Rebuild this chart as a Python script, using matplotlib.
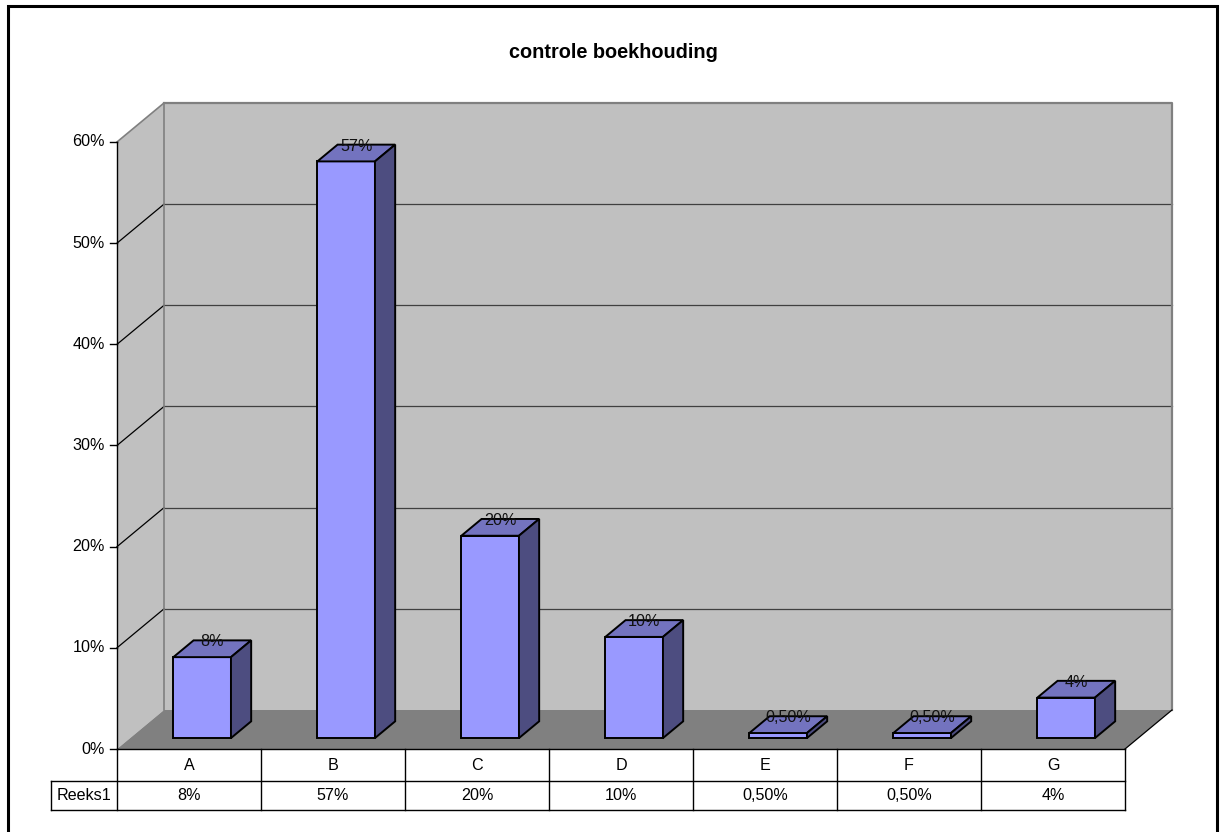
import matplotlib
matplotlib.use("Agg")
import matplotlib.pyplot as plt
from matplotlib.patches import Polygon, Rectangle

# ---- data ----
categories = ["A", "B", "C", "D", "E", "F", "G"]
values = [0.08, 0.57, 0.20, 0.10, 0.005, 0.005, 0.04]
value_labels = ["8%", "57%", "20%", "10%", "0,50%", "0,50%", "4%"]
series_name = "Reeks1"
yticks = [0.0, 0.1, 0.2, 0.3, 0.4, 0.5, 0.6]
ytick_labels = ["0%", "10%", "20%", "30%", "40%", "50%", "60%"]
title = "controle boekhouding"

# ---- layout / style ----
W, H, DPI = 1224, 832, 100
X0_PX, Y0_PX = 117, 749          # pixel of (x=0, y=0)
PX_PER_CAT = 144.0
PX_PER_UNIT = 1011.7
DEPTH = (47 / PX_PER_CAT, 39 / PX_PER_UNIT)
F0, F1 = 0.28, 0.71              # bar depth span (fraction of depth)
BAR_W = 0.40
FONT = "Liberation Sans"
FS = 11.6

plt.rcParams["font.family"] = [FONT, "DejaVu Sans"]

fig = plt.figure(figsize=(W / DPI, H / DPI), dpi=DPI)
fig.patch.set_facecolor("white")
ax = fig.add_axes([0, 0, 1, 1])
ax.set_xlim(-X0_PX / PX_PER_CAT, (W - X0_PX) / PX_PER_CAT)
ax.set_ylim((Y0_PX - H) / PX_PER_UNIT, Y0_PX / PX_PER_UNIT)
ax.axis("off")

n = len(categories)
dx, dy = DEPTH
ymax = yticks[-1]

# walls & floor
side = Polygon([(0, 0), (dx, dy), (dx, ymax + dy), (0, ymax)], closed=True,
               facecolor="#C0C0C0", edgecolor="none", zorder=1)
back = Polygon([(dx, dy), (n + dx, dy), (n + dx, ymax + dy), (dx, ymax + dy)],
               closed=True, facecolor="#C0C0C0", edgecolor="none", zorder=1)
floor = Polygon([(0, 0), (n, 0), (n + dx, dy), (dx, dy)], closed=True,
                facecolor="#808080", edgecolor="none", zorder=1)
for p in (side, back, floor):
    ax.add_patch(p)

# gridlines
for t in yticks[1:-1]:
    ax.plot([dx, n + dx], [t + dy, t + dy], color="#404040", lw=0.9, zorder=2)
    ax.plot([0, dx], [t, t + dy], color="black", lw=0.9, zorder=2)
# wall borders
ax.plot([dx, n + dx, n + dx], [ymax + dy, ymax + dy, dy], color="#808080", lw=1.6, zorder=2)
ax.plot([0, dx], [ymax, ymax + dy], color="#808080", lw=1.2, zorder=2)
ax.plot([dx, dx], [dy, ymax + dy], color="#808080", lw=1.2, zorder=2)
ax.plot([n, n + dx], [0, dy], color="black", lw=0.9, zorder=2)

# bars
for i, (v, lab) in enumerate(zip(values, value_labels)):
    xl = i + 0.5 - BAR_W / 2 + F0 * dx
    xr = xl + BAR_W
    yb = F0 * dy
    yt = v + F0 * dy
    ddx, ddy = (F1 - F0) * dx, (F1 - F0) * dy
    front = Polygon([(xl, yb), (xr, yb), (xr, yt), (xl, yt)], closed=True,
                    facecolor="#9999FF", edgecolor="black", lw=1.4, zorder=3,
                    joinstyle="miter")
    top = Polygon([(xl, yt), (xr, yt), (xr + ddx, yt + ddy), (xl + ddx, yt + ddy)],
                  closed=True, facecolor="#7373BF", edgecolor="black", lw=1.4,
                  zorder=3, joinstyle="miter")
    sidef = Polygon([(xr, yb), (xr + ddx, yb + ddy), (xr + ddx, yt + ddy), (xr, yt)],
                    closed=True, facecolor="#4D4D80", edgecolor="black", lw=1.4,
                    zorder=3, joinstyle="miter")
    for p in (front, top, sidef):
        ax.add_patch(p)
    cx = i + 0.5 + (F0 + F1) / 2 * dx
    cy = v + (F0 + F1) / 2 * dy + 7 / PX_PER_UNIT
    ax.text(cx, cy, lab, ha="center", va="center", fontsize=FS, color="#111111",
            zorder=4)

# y axis
ax.plot([0, 0], [0, ymax], color="black", lw=1.0, zorder=4)
tick_len = 7 / PX_PER_CAT
for t, tl in zip(yticks, ytick_labels):
    ax.plot([-tick_len, 0], [t, t], color="black", lw=1.0, zorder=4)
    ax.text(-tick_len - 5 / PX_PER_CAT, t, tl, ha="right", va="center",
            fontsize=FS, zorder=4)

# data table
r1 = -32 / PX_PER_UNIT
r2 = -61 / PX_PER_UNIT
xlab = -66 / PX_PER_CAT
lw_t = 1.0
ax.plot([0, n], [0, 0], color="black", lw=lw_t, zorder=4)
ax.plot([xlab, n], [r1, r1], color="black", lw=lw_t, zorder=4)
ax.plot([xlab, n], [r2, r2], color="black", lw=lw_t, zorder=4)
ax.plot([xlab, xlab], [r1, r2], color="black", lw=lw_t, zorder=4)
for i in range(n + 1):
    ax.plot([i, i], [0, r2], color="black", lw=lw_t, zorder=4)
for i, (c, lab) in enumerate(zip(categories, value_labels)):
    ax.text(i + 0.5, r1 / 2, c, ha="center", va="center", fontsize=FS, zorder=4)
    ax.text(i + 0.5, (r1 + r2) / 2, lab, ha="center", va="center", fontsize=FS, zorder=4)
ax.text(xlab / 2, (r1 + r2) / 2, series_name, ha="center", va="center",
        fontsize=FS, zorder=4)

# title
fig.text(613 / W, 1 - 52 / H, title, ha="center", va="center",
         fontsize=14.3, fontweight="bold")

# outer border
fig.patches.append(Rectangle((7.5 / W, -10 / H), 1209 / W, (H - 6 + 10) / H,
                             transform=fig.transFigure, fill=False,
                             edgecolor="black", lw=2.2, clip_on=False))

fig.savefig("out.png", dpi=DPI)
